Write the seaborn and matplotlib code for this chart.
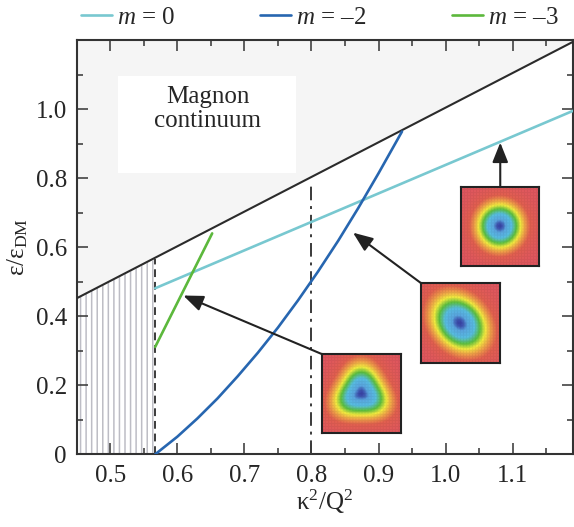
import numpy as np
import matplotlib
matplotlib.use("Agg")
import matplotlib.pyplot as plt
import seaborn as sns
from matplotlib.colors import LinearSegmentedColormap
from matplotlib.patches import Rectangle

sns.set_theme(style="ticks")
plt.rcParams['font.family'] = ['Liberation Serif', 'DejaVu Serif']
plt.rcParams.update({'font.size': 18,
                     'mathtext.fontset': 'custom',
                     'mathtext.rm': 'Liberation Serif',
                     'mathtext.it': 'Liberation Serif:italic',
                     'hatch.linewidth': 1.1,
                     'hatch.color': '#bdbdc5'})

# Values
continuum_x = [0.45, 1.19]
continuum_y = [0.452, 1.195]
cut_x = [0.567, 0.567]
cut_y = [0.0, 0.565]
mark_x = [0.8, 0.8]
mark_y = [0.0, 0.79]

m0_x = [0.567, 1.19]
m0_y = [0.481, 0.995]
m2_x = [0.567, 0.60, 0.63, 0.66, 0.69, 0.72, 0.75, 0.78, 0.81, 0.84, 0.87, 0.90, 0.935]
m2_y = [0.0, 0.051, 0.104, 0.162, 0.226, 0.294, 0.367, 0.446, 0.530, 0.619, 0.714, 0.814, 0.935]
m3_x = [0.567, 0.652]
m3_y = [0.311, 0.640]
labels = ["$m$ = 0", "$m$ = \u20132", "$m$ = \u20133"]
colors = ['#78c8d0', '#2766b0', '#5cb83c']

x_ticks = [0.5, 0.6, 0.7, 0.8, 0.9, 1.0, 1.1]
x_ticklabels = ["0.5", "0.6", "0.7", "0.8", "0.9", "1.0", "1.1"]
y_ticks = [0, 0.2, 0.4, 0.6, 0.8, 1.0]
y_ticklabels = ["0", "0.2", "0.4", "0.6", "0.8", "1.0"]

# inset boxes (x0, y0, w, h) and arrow tip / tail in data units
insets = [(0.816, 0.062, 0.118, 0.228), (0.964, 0.264, 0.117, 0.231), (1.023, 0.545, 0.117, 0.230)]
arrow_tails = [(0.816, 0.290), (0.964, 0.495), (1.0815, 0.775)]
arrow_tips = [(0.609, 0.460), (0.862, 0.642), (1.0815, 0.903)]

fig = plt.figure(figsize=(5.74, 5.27), dpi=100)
ax = fig.add_axes([0.1336, 0.1379, 0.8647, 0.7861])

# continuum and forbidden region
ax.fill_between(continuum_x, continuum_y, 1.2, color='#f5f5f5', lw=0, zorder=0)
ax.fill_between([continuum_x[0], cut_x[0]], 0, [continuum_y[0], cut_y[1]], facecolor='white',
                hatch='|||', edgecolor='#bdbdc5', lw=0, zorder=0)
ax.add_patch(Rectangle((0.512, 0.816), 0.265, 0.281, facecolor='white', lw=0, zorder=1))
ax.text(0.645, 1.0, "Magnon\ncontinuum", ha='center', va='center', fontsize=18, linespacing=1.1, zorder=2)
ax.plot(continuum_x, continuum_y, color='#2b2b2b', lw=1.5, zorder=3)
ax.plot(cut_x, cut_y, color='#3a3a3a', lw=1.4, ls=(0, (4, 2.5)), zorder=3)
ax.plot(mark_x, mark_y, color='#3a3a3a', lw=1.4, ls=(0, (7, 3, 1.5, 3)), zorder=3)

for xs, ys, c, lab in zip([m0_x, m2_x, m3_x], [m0_y, m2_y, m3_y], colors, labels):
    sns.lineplot(x=xs, y=ys, color=c, lw=1.9, ax=ax, label=lab, zorder=4)

# skyrmion-like texture insets
cmap = LinearSegmentedColormap.from_list('sk', [(0, '#df5660'), (0.2, '#e2604f'), (0.33, '#efa048'),
                                                (0.47, '#f3ec40'), (0.62, '#5cc040'), (0.78, '#58bfe2'),
                                                (0.94, '#5aa6e0'), (1.0, '#3a46a8')])
n = 79
yy, xx = np.mgrid[0:1:n * 1j, 0:1:n * 1j]
u = xx - 0.49
w = yy - 0.5
r = np.hypot(u, w)
th = np.arctan2(-w, u)
fields = [np.exp(-((r * (1 - 0.11 * np.cos(3 * (th - np.pi / 2)))) / 0.35) ** 2),
          np.exp(-(((u + w) / np.sqrt(2) / 0.42) ** 2 + ((u - w) / np.sqrt(2) / 0.33) ** 2)),
          np.exp(-(r / 0.31) ** 2)]
lattice = 1 - 0.05 * ((np.arange(n) % 3 == 0)[:, None] | (np.arange(n) % 3 == 0)[None, :])
for box, f in zip(insets, fields):
    ia = ax.inset_axes(box, transform=ax.transData, zorder=5)
    rgb = cmap(f)[..., :3] * lattice[..., None]
    ia.imshow(rgb, aspect='auto', interpolation='bilinear')
    ia.set_xticks([])
    ia.set_yticks([])
    for s in ia.spines.values():
        s.set_color('#222222')
        s.set_linewidth(1.5)

for tail, tip in zip(arrow_tails, arrow_tips):
    ax.annotate('', xy=tip, xytext=tail,
                arrowprops=dict(arrowstyle='-|>,head_length=0.6,head_width=0.24', color='#222222',
                                lw=1.5, mutation_scale=20, shrinkA=0, shrinkB=0), zorder=6)

ax.set_xlim(0.45, 1.19)
ax.set_ylim(0, 1.2)
ax.set_xticks(x_ticks)
ax.set_xticklabels(x_ticklabels)
ax.set_yticks(y_ticks)
ax.set_yticklabels(y_ticklabels)
ax.set_xticks(np.arange(0.45, 1.19, 0.05), minor=True)
ax.set_yticks(np.arange(0.1, 1.2, 0.2), minor=True)
ax.tick_params(which='both', direction='in', top=True, right=True, color='#333333', width=1.1, labelsize=18)
ax.tick_params(which='major', length=8)
ax.tick_params(which='minor', length=4.3)
ax.tick_params(axis='x', pad=8)
ax.tick_params(axis='y', pad=7)
for s in ax.spines.values():
    s.set_linewidth(1.5)
    s.set_color('#333333')

ax.set_xlabel("\u03ba$^2$/Q$^2$", fontsize=18, labelpad=0)
ax.set_ylabel("\u03b5/\u03b5$_{\\mathrm{DM}}$", fontsize=18, labelpad=4)

handles, labs = ax.get_legend_handles_labels()
ax.legend().remove()
fig.legend(handles, labs, loc='center', bbox_to_anchor=(0.557, 0.966), ncol=3, frameon=False,
           handlelength=1.25, handletextpad=0.2, columnspacing=3.4, fontsize=18)

fig.savefig("out.png", dpi=100)
